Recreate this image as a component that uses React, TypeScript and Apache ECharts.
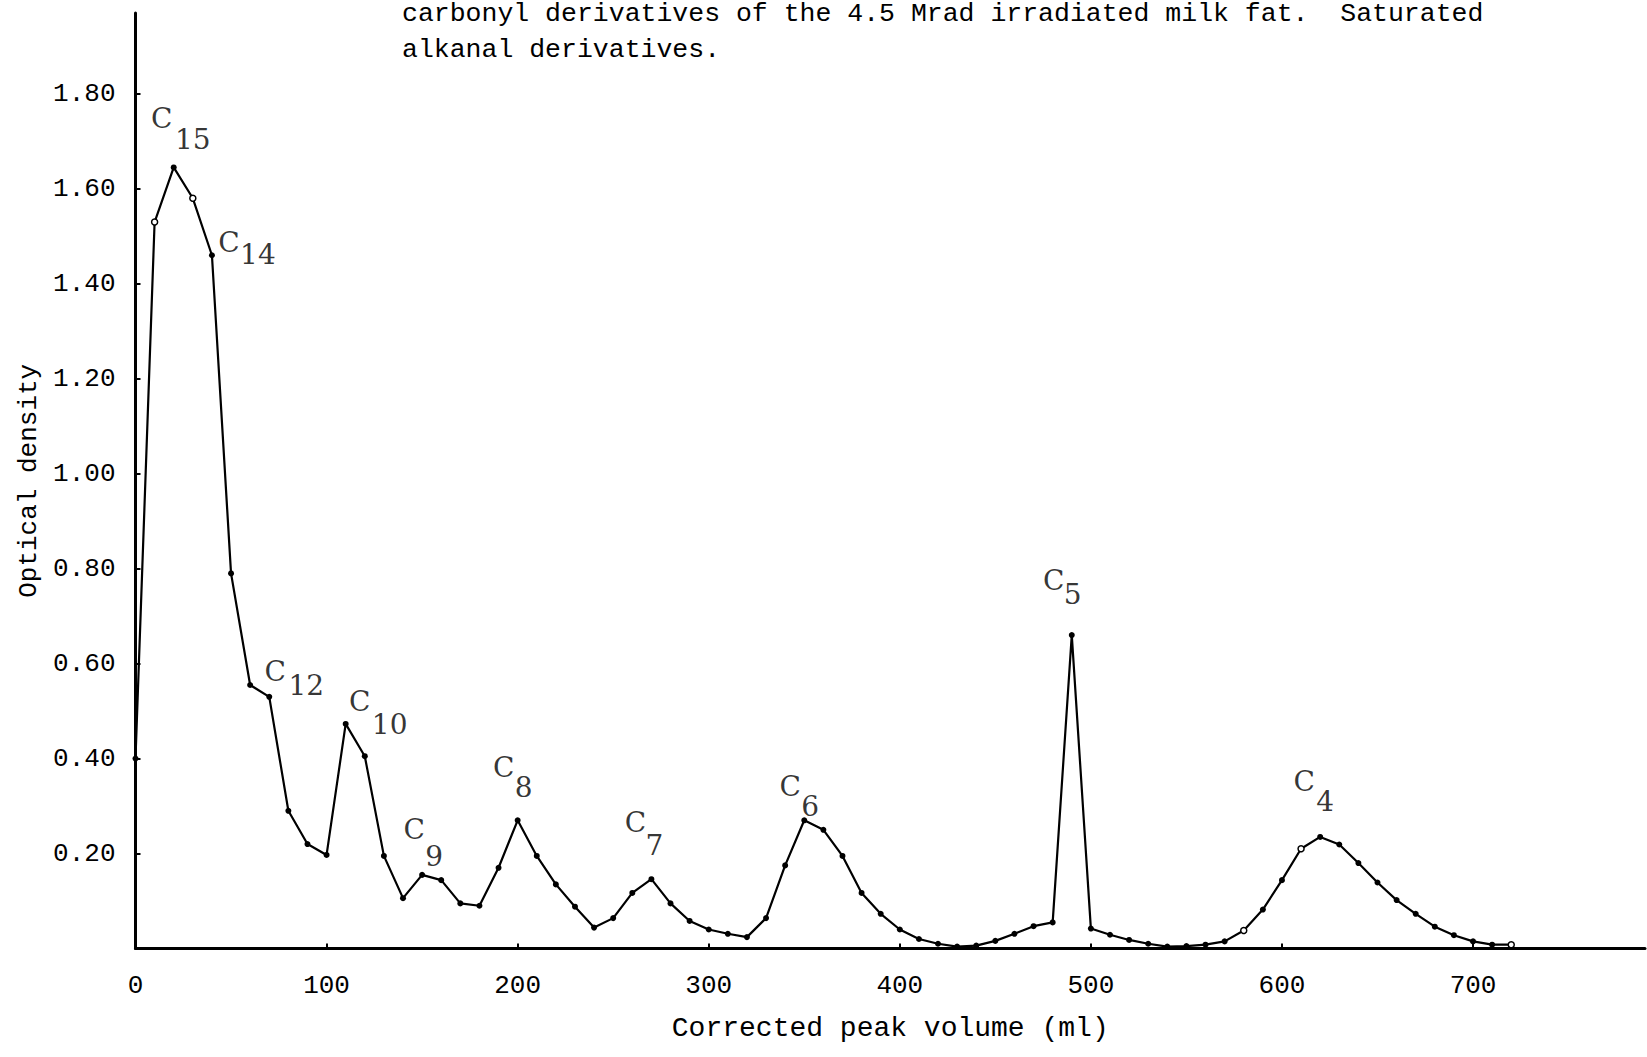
import React, { useEffect, useRef } from "react";
import * as echarts from "echarts";

const captionLines = [
  "carbonyl derivatives of the 4.5 Mrad irradiated milk fat.  Saturated",
  "alkanal derivatives.",
];

const xAxisTitle = "Corrected peak volume (ml)";
const yAxisTitle = "Optical density";

const volumes = [
  0, 10, 20, 30, 40, 50, 60, 70, 80, 90, 100, 110, 120, 130, 140, 150, 160, 170, 180, 190,
  200, 210, 220, 230, 240, 250, 260, 270, 280, 290, 300, 310, 320, 330, 340, 350, 360, 370,
  380, 390, 400, 410, 420, 430, 440, 450, 460, 470, 480, 490, 500, 510, 520, 530, 540, 550,
  560, 570, 580, 590, 600, 610, 620, 630, 640, 650, 660, 670, 680, 690, 700, 710, 720,
];

const density = [
  0.4, 1.53, 1.645, 1.58, 1.46, 0.79, 0.555, 0.53, 0.29, 0.22, 0.197, 0.473, 0.405, 0.195,
  0.106, 0.155, 0.144, 0.095, 0.09, 0.17, 0.27, 0.195, 0.135, 0.088, 0.044, 0.064, 0.117,
  0.146, 0.095, 0.058, 0.04, 0.031, 0.024, 0.064, 0.175, 0.27, 0.25, 0.195, 0.117, 0.073,
  0.04, 0.02, 0.01, 0.004, 0.006, 0.016, 0.031, 0.047, 0.055, 0.66, 0.042, 0.029, 0.018,
  0.01, 0.004, 0.005, 0.008, 0.015, 0.038, 0.082, 0.144, 0.21, 0.235, 0.219, 0.18, 0.139,
  0.102, 0.073, 0.046, 0.028, 0.015, 0.008, 0.008,
];

// points drawn as open circles in the original
const openMarkerVolumes = [10, 30, 580, 610, 720];

// peak annotations: C with subscript carbon number
const peakVolumes = [20, 40, 70, 110, 150, 200, 270, 350, 490, 620];
const peakSubscripts = ["15", "14", "12", "10", "9", "8", "7", "6", "5", "4"];

// pixel offsets of the label glyphs from their peak point (style only)
const letterOffsets = [
  [-12, -49], [17, -13], [6, -25], [14, -22], [-8, -45],
  [-14, -53], [-16, -57], [-14, -34], [-18, -55], [-16, -55],
];
const subscriptOffsets = [
  [19, -28], [46, -1], [37, -11], [44, 1], [12, -18],
  [6, -33], [3, -34], [6, -14], [1, -41], [5, -35],
];

const FONT = '"Liberation Mono", "DejaVu Sans Mono", monospace';
const LABEL_FONT = '"DejaVu Serif", "Liberation Serif", serif';

export default function App() {
  const ref = useRef<HTMLDivElement>(null);

  useEffect(() => {
    if (!ref.current) return;
    const chart = echarts.init(ref.current, null, { renderer: "svg" });

    const lineData = volumes.map((v, i) => {
      const open = openMarkerVolumes.includes(v);
      return {
        value: [v, density[i]],
        itemStyle: open
          ? { color: "#fff", borderColor: "#000", borderWidth: 1.5 }
          : { color: "#000" },
      };
    });

    const peakY = (v: number) => density[volumes.indexOf(v)];

    const letterData = peakVolumes.map((v, i) => ({
      value: [v, peakY(v)],
      label: { offset: letterOffsets[i], formatter: "C" },
    }));
    const subData = peakVolumes.map((v, i) => ({
      value: [v, peakY(v)],
      label: { offset: subscriptOffsets[i], formatter: peakSubscripts[i] },
    }));

    const labelBase = {
      show: true,
      position: "inside",
      align: "center",
      verticalAlign: "middle",
      color: "#000",
      fontFamily: LABEL_FONT,
      fontSize: 28,
    };

    chart.setOption({
      animation: false,
      backgroundColor: "#fff",
      grid: { left: 135.5, right: 2, top: 13.1, bottom: 108.5, containLabel: false },
      xAxis: {
        type: "value",
        min: 0,
        max: 790,
        interval: 100,
        name: xAxisTitle,
        nameLocation: "middle",
        nameGap: 66,
        nameTextStyle: { color: "#000", fontFamily: FONT, fontSize: 28 },
        axisLine: { show: true, lineStyle: { color: "#000", width: 3 } },
        axisTick: { show: true, inside: true, length: 5, lineStyle: { color: "#000", width: 2 } },
        axisLabel: {
          color: "#000",
          fontFamily: FONT,
          fontSize: 26,
          margin: 24,
          showMaxLabel: false,
        },
        splitLine: { show: false },
      },
      yAxis: {
        type: "value",
        min: 0,
        max: 1.97,
        interval: 0.2,
        name: yAxisTitle,
        nameLocation: "middle",
        nameGap: 93,
        nameTextStyle: { color: "#000", fontFamily: FONT, fontSize: 26 },
        axisLine: { show: true, lineStyle: { color: "#000", width: 3 } },
        axisTick: { show: true, inside: true, length: 5, lineStyle: { color: "#000", width: 2 } },
        axisLabel: {
          color: "#000",
          fontFamily: FONT,
          fontSize: 26,
          margin: 20,
          showMaxLabel: false,
          formatter: (val: number) => (val === 0 ? "" : val.toFixed(2)),
        },
        splitLine: { show: false },
      },
      graphic: captionLines.map((t, i) => ({
        type: "text",
        x: 402,
        y: i === 0 ? 14 : 50,
        style: {
          text: t,
          fill: "#000",
          fontFamily: FONT,
          fontSize: 26.5,
          align: "left",
          verticalAlign: "middle",
        },
      })),
      series: [
        {
          type: "line",
          data: lineData,
          smooth: false,
          symbol: "circle",
          symbolSize: 6,
          lineStyle: { color: "#000", width: 2.2 },
          z: 3,
        },
        {
          type: "scatter",
          data: letterData,
          symbolSize: 1,
          itemStyle: { color: "transparent" },
          label: labelBase,
          z: 4,
        },
        {
          type: "scatter",
          data: subData,
          symbolSize: 1,
          itemStyle: { color: "transparent" },
          label: labelBase,
          z: 4,
        },
      ],
    });

    return () => chart.dispose();
  }, []);

  return (
    <div
      ref={ref}
      style={{ position: "fixed", left: 0, top: 0, width: 1647, height: 1057 }}
    />
  );
}
